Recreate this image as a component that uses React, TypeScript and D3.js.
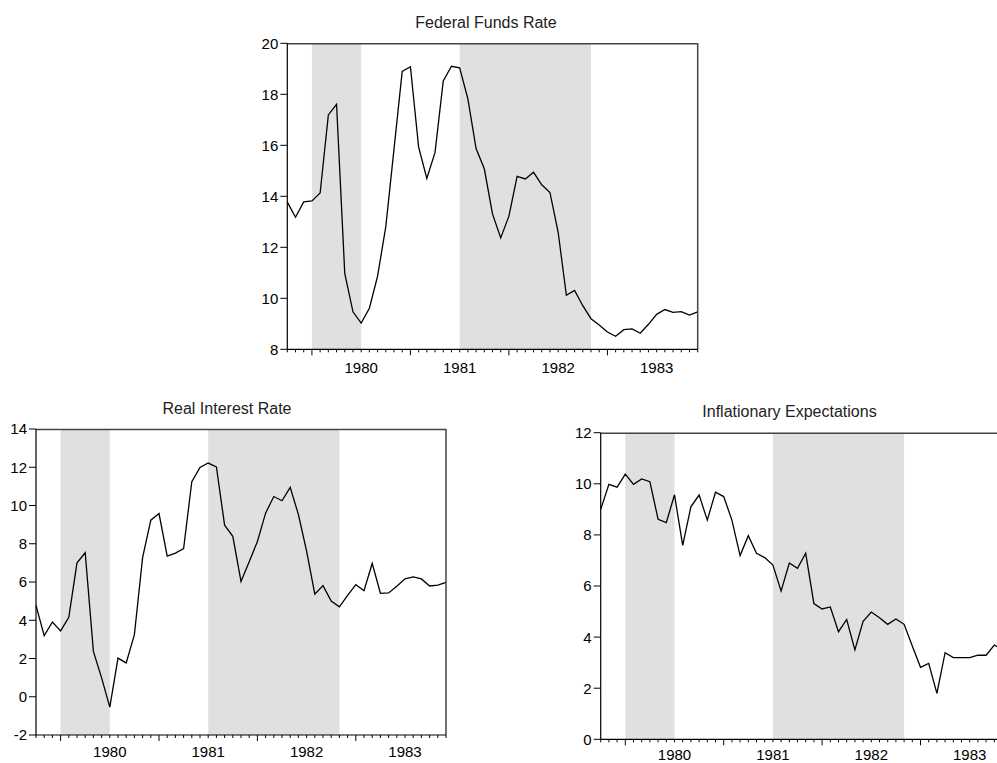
import React from "react";
import * as d3 from "d3";

// monthly observations, Oct 1979 .. Dec 1983
const months: Date[] = d3.timeMonth.range(new Date(1979, 9, 1), new Date(1984, 0, 1));

const fedFunds: number[] = [
  13.77, 13.18, 13.78,
  13.82, 14.13, 17.19, 17.61, 10.98, 9.47, 9.03, 9.61, 10.87, 12.81, 15.85, 18.9,
  19.08, 15.93, 14.7, 15.72, 18.52, 19.1, 19.04, 17.82, 15.87, 15.08, 13.31, 12.37,
  13.22, 14.78, 14.68, 14.94, 14.45, 14.15, 12.59, 10.12, 10.31, 9.71, 9.2, 8.95,
  8.68, 8.51, 8.77, 8.8, 8.63, 8.98, 9.37, 9.56, 9.45, 9.48, 9.34, 9.47,
];

const realRate: number[] = [
  4.77, 3.2, 3.91,
  3.44, 4.15, 7.0, 7.53, 2.37, 0.99, -0.54, 2.02, 1.77, 3.25, 7.27, 9.23,
  9.58, 7.35, 7.51, 7.75, 11.24, 11.99, 12.22, 12.02, 8.97, 8.39, 6.03, 7.06,
  8.12, 9.6, 10.47, 10.25, 10.95, 9.53, 7.61, 5.36, 5.81, 5.0, 4.7, 5.3,
  5.86, 5.54, 6.97, 5.41, 5.43, 5.78, 6.17, 6.27, 6.16, 5.79, 5.84, 5.98,
];

const inflExp: number[] = [
  9.0, 9.98, 9.87,
  10.38, 9.98, 10.19, 10.08, 8.61, 8.48, 9.57, 7.59, 9.1, 9.56, 8.58, 9.67,
  9.5, 8.58, 7.19, 7.97, 7.28, 7.11, 6.82, 5.8, 6.9, 6.69, 7.28, 5.31,
  5.1, 5.18, 4.21, 4.69, 3.5, 4.62, 4.98, 4.76, 4.5, 4.71, 4.5, 3.65,
  2.82, 2.97, 1.8, 3.39, 3.2, 3.2, 3.2, 3.29, 3.29, 3.69, 3.5, 3.49,
];

// NBER recessions [first month, last month]
const recessions: [Date, Date][] = [
  [new Date(1980, 0, 1), new Date(1980, 6, 1)],
  [new Date(1981, 6, 1), new Date(1982, 10, 1)],
];

const yearLabels: number[] = [1980, 1981, 1982, 1983];

const fedTicks: number[] = [8, 10, 12, 14, 16, 18, 20];
const realTicks: number[] = [-2, 0, 2, 4, 6, 8, 10, 12, 14];
const inflTicks: number[] = [0, 2, 4, 6, 8, 10, 12];

const FONT = "'Liberation Sans', Arial, Helvetica, sans-serif";

interface PanelProps {
  title: string;
  values: number[];
  yTicks: number[];
  left: number;
  top: number;
  width: number;
  height: number;
  titleX: number;
  labelOffset: number;
}

const monthIndex = (d: Date) =>
  (d.getFullYear() - months[0].getFullYear()) * 12 + d.getMonth() - months[0].getMonth();

const Panel: React.FC<PanelProps> = ({
  title,
  values,
  yTicks,
  left,
  top,
  width,
  height,
  titleX,
  labelOffset,
}) => {
  const x = d3.scaleLinear().domain([0, months.length - 1]).range([0, width]);
  const y = d3
    .scaleLinear()
    .domain([yTicks[0], yTicks[yTicks.length - 1]])
    .range([height, 0]);

  const line = d3
    .line<number>()
    .x((_, i) => x(i))
    .y((d) => y(d));

  return (
    <g transform={`translate(${left},${top})`}>
      <text x={titleX - left} y={-15.5} textAnchor="middle" fontSize={16} fill="#222">
        {title}
      </text>
      {recessions.map(([a, b], i) => (
        <rect
          key={i}
          x={x(monthIndex(a))}
          y={0}
          width={x(monthIndex(b)) - x(monthIndex(a))}
          height={height}
          fill="#e0e0e0"
        />
      ))}
      <path d={line(values) || ""} fill="none" stroke="#000" strokeWidth={1.3} />
      {/* frame */}
      <line x1={0} x2={width} y1={0.5} y2={0.5} stroke="#444" strokeWidth={1.5} />
      <line x1={width} x2={width} y1={0} y2={height} stroke="#444" strokeWidth={1.5} />
      <line x1={0} x2={0} y1={0} y2={height} stroke="#000" strokeWidth={1.2} />
      <line x1={0} x2={width} y1={height} y2={height} stroke="#000" strokeWidth={1.2} />
      {/* y axis */}
      {yTicks.map((t) => (
        <g key={t} transform={`translate(0,${y(t)})`}>
          <line x1={-7} x2={0} stroke="#000" strokeWidth={1} />
          <text x={-9} dy="0.36em" textAnchor="end" fontSize={15} fill="#000">
            {t}
          </text>
        </g>
      ))}
      {/* x axis: monthly ticks, longer at January */}
      {months.map((m, i) => (
        <line
          key={i}
          x1={x(i)}
          x2={x(i)}
          y1={height}
          y2={height + (m.getMonth() === 0 ? 6 : 3)}
          stroke="#000"
          strokeWidth={1}
        />
      ))}
      {yearLabels.map((yr) => (
        <text
          key={yr}
          x={x(monthIndex(new Date(yr, 6, 1)))}
          y={height + labelOffset}
          textAnchor="middle"
          fontSize={15}
          fill="#000"
        >
          {yr}
        </text>
      ))}
    </g>
  );
};

export default function App() {
  return (
    <svg
      width={997}
      height={763}
      style={{ position: "absolute", left: 0, top: 0, background: "#fff" }}
      fontFamily={FONT}
    >
      <Panel
        title="Federal Funds Rate"
        values={fedFunds}
        yTicks={fedTicks}
        left={287.3}
        top={43.3}
        width={410.4}
        height={306}
        titleX={486}
        labelOffset={23.5}
      />
      <Panel
        title="Real Interest Rate"
        values={realRate}
        yTicks={realTicks}
        left={36}
        top={429}
        width={410}
        height={306}
        titleX={227}
        labelOffset={22}
      />
      <Panel
        title="Inflationary Expectations"
        values={inflExp}
        yTicks={inflTicks}
        left={600.7}
        top={432.7}
        width={410}
        height={306.6}
        titleX={789.5}
        labelOffset={20.5}
      />
    </svg>
  );
}
